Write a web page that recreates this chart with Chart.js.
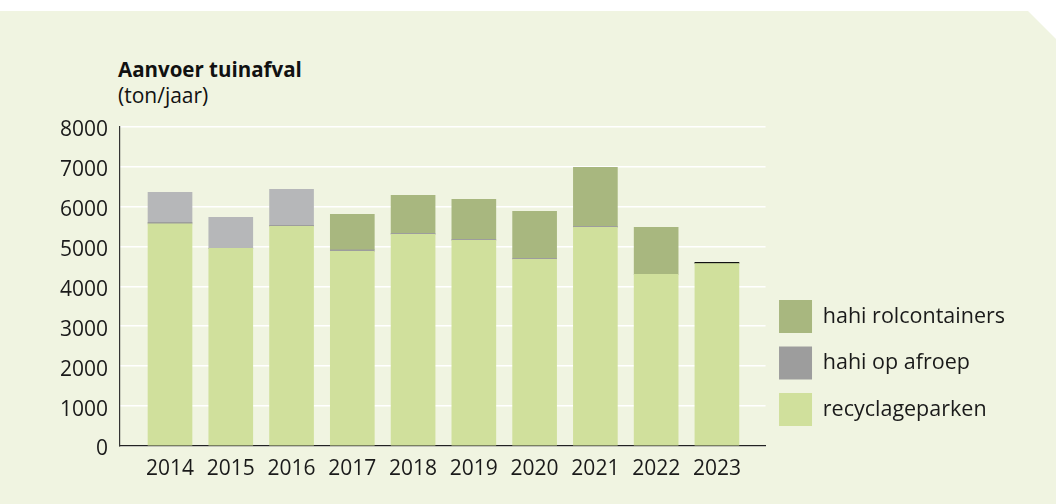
<!DOCTYPE html>
<html><head><meta charset="utf-8">
<script src="https://cdn.jsdelivr.net/npm/chart.js@4.4.1/dist/chart.umd.min.js"></script>
<style>
html,body{margin:0;padding:0;background:#fff;}
#wrap{position:relative;width:1056px;height:504px;overflow:hidden;}
#panel{position:absolute;left:0;top:11px;width:1056px;height:493px;background:#f0f4e1;clip-path:polygon(0 0,1028px 0,1056px 28px,1056px 100%,0 100%);}
#title{position:absolute;left:118px;top:58.5px;font:700 20.5px/20.5px "Open Sans";color:#111;white-space:nowrap;}
#sub{position:absolute;left:118px;top:84.7px;font:400 21px/21px "Open Sans";color:#111;white-space:nowrap;}
canvas{position:absolute;left:0;top:0;}
</style></head>
<body><div id="wrap"><div id="panel"></div><div id="title">Aanvoer tuinafval</div><div id="sub">(ton/jaar)</div><canvas id="c" width="1056" height="504"></canvas></div>
<script>
const years = [2014, 2015, 2016, 2017, 2018, 2019, 2020, 2021, 2022, 2023];
const recyclageparken = [5560, 4950, 5500, 4875, 5300, 5150, 4675, 5475, 4300, 4570];
const hahiOpAfroep = [40, 0, 25, 40, 25, 25, 25, 25, 0, 30];
const hahiRolcontainers = [750, 775, 900, 885, 950, 1000, 1175, 1475, 1175, 0];
const yTicks = [0, 1000, 2000, 3000, 4000, 5000, 6000, 7000, 8000];
const greyTopYears = [2014, 2015, 2016];
const blackLineYears = [2023];

const C_RECY = '#d0e09c', C_AFROEP = '#9d9d9d', C_ROL = '#a8b77f', C_LIGHTGREY = '#b6b7b9';
const legendColors = [C_RECY, C_AFROEP, C_ROL];
const FONT = 'Open Sans';

const legendShift = {
  id: 'legendShift',
  afterLayout(chart) { const lg = chart.legend; if (lg) { lg.top -= 6.5; lg.bottom -= 6.5; } }
};

new Chart(document.getElementById('c'), {
  type: 'bar',
  data: {
    labels: years,
    datasets: [
      { label: 'recyclageparken', data: recyclageparken, backgroundColor: C_RECY },
      { label: 'hahi op afroep', data: hahiOpAfroep,
        backgroundColor: c => (c.type === 'data' && blackLineYears.includes(years[c.dataIndex])) ? '#111111' : C_AFROEP },
      { label: 'hahi rolcontainers', data: hahiRolcontainers,
        backgroundColor: c => (c.type === 'data' && greyTopYears.includes(years[c.dataIndex])) ? C_LIGHTGREY : C_ROL }
    ]
  },
  options: {
    responsive: false,
    animation: false,
    devicePixelRatio: 1,
    layout: { padding: { left: 0, right: 41, top: 126.5, bottom: 0 } },
    datasets: { bar: { barThickness: 44, borderWidth: 0 } },
    scales: {
      x: {
        type: 'linear', stacked: true, offset: false, min: 2013.177, max: 2023.80,
        grid: { display: false },
        border: { display: true, color: '#222', width: 1.2 },
        afterBuildTicks: s => { s.ticks = years.map(v => ({ value: v })); },
        afterFit: s => { s.height = 58; },
        ticks: { autoSkip: false, maxRotation: 0, padding: 2, color: '#1a1a1a',
          font: { family: FONT, size: 21 }, callback: v => String(v) }
      },
      y: {
        stacked: true, min: 0, max: 8000,
        grid: { color: '#ffffff', lineWidth: 1.5, drawTicks: false },
        border: { display: true, color: '#333', width: 1.2 },
        afterBuildTicks: s => { s.ticks = yTicks.map(v => ({ value: v })); },
        afterFit: s => { s.width = 120; },
        ticks: { padding: 12, color: '#1a1a1a', font: { family: FONT, size: 21 }, labelOffset: 3.5,
          callback: v => String(v) }
      }
    },
    plugins: {
      tooltip: { enabled: false },
      title: { display: false },
      legend: {
        position: 'right', align: 'end', fullSize: false, reverse: true,
        labels: { boxWidth: 33, boxHeight: 33, padding: 13.5, color: '#1a1a1a',
          font: { family: FONT, size: 21.5 },
          generateLabels: chart => {
            const items = Chart.defaults.plugins.legend.labels.generateLabels(chart);
            items.forEach(it => { it.fillStyle = legendColors[it.datasetIndex]; it.strokeStyle = legendColors[it.datasetIndex]; it.lineWidth = 0; });
            return items;
          } }
      }
    }
  },
  plugins: [legendShift]
});
</script>
</body></html>
